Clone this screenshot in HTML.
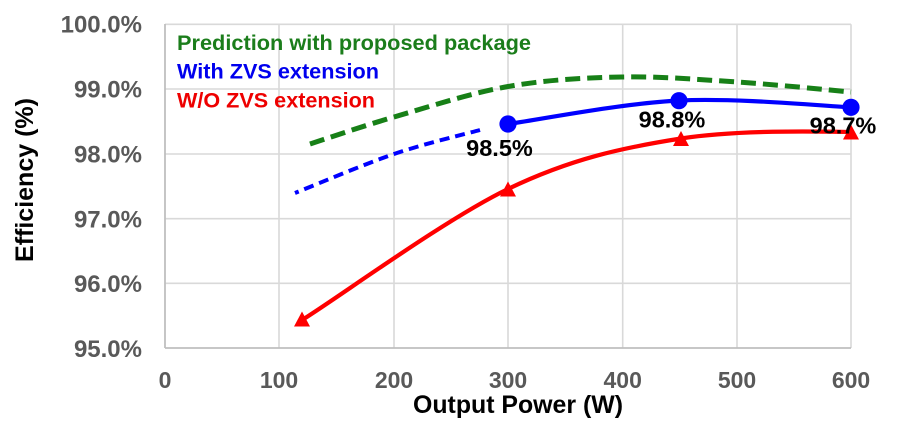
<!DOCTYPE html>
<html>
<head>
<meta charset="utf-8">
<style>
  html, body { margin: 0; padding: 0; background: #ffffff; }
  svg { display: block; }
  text { font-family: "Liberation Sans", Arial, sans-serif; font-weight: bold; }
</style>
</head>
<body>
<svg width="903" height="437" viewBox="0 0 903 437" xmlns="http://www.w3.org/2000/svg">
  <rect x="0" y="0" width="903" height="437" fill="#ffffff"/>

  <!-- gridlines -->
  <g stroke="#d9d9d9" stroke-width="1.6" fill="none">
    <line x1="165" y1="24.3" x2="851" y2="24.3"/>
    <line x1="165" y1="89" x2="851" y2="89"/>
    <line x1="165" y1="154" x2="851" y2="154"/>
    <line x1="165" y1="218.7" x2="851" y2="218.7"/>
    <line x1="165" y1="283.3" x2="851" y2="283.3"/>
    <line x1="279" y1="24.3" x2="279" y2="348"/>
    <line x1="394" y1="24.3" x2="394" y2="348"/>
    <line x1="508" y1="24.3" x2="508" y2="348"/>
    <line x1="622.7" y1="24.3" x2="622.7" y2="348"/>
    <line x1="737" y1="24.3" x2="737" y2="348"/>
    <line x1="851" y1="24.3" x2="851" y2="348"/>
  </g>
  <!-- axes -->
  <g stroke="#bfbfbf" stroke-width="1.8" fill="none">
    <line x1="165" y1="24" x2="165" y2="348"/>
    <line x1="165" y1="348" x2="851" y2="348"/>
  </g>

  <!-- Y tick labels -->
  <g font-size="24" fill="#595959" text-anchor="end">
    <text x="142" y="32.5">100.0%</text>
    <text x="142" y="97.5">99.0%</text>
    <text x="142" y="162.5">98.0%</text>
    <text x="142" y="227.3">97.0%</text>
    <text x="142" y="292">96.0%</text>
    <text x="142" y="357">95.0%</text>
  </g>

  <!-- X tick labels -->
  <g font-size="23" fill="#595959" text-anchor="middle">
    <text x="165" y="388">0</text>
    <text x="279" y="388">100</text>
    <text x="394" y="388">200</text>
    <text x="508" y="388">300</text>
    <text x="622.7" y="388">400</text>
    <text x="737" y="388">500</text>
    <text x="851" y="388">600</text>
  </g>

  <!-- Axis titles -->
  <text x="413" y="413" font-size="25" fill="#000" textLength="210" lengthAdjust="spacingAndGlyphs">Output Power (W)</text>
  <text transform="translate(33,180) rotate(-90)" x="0" y="0" font-size="25" fill="#000" text-anchor="middle">Efficiency (%)</text>

  <!-- Legend text -->
  <text x="177" y="50" font-size="21" fill="#1b7d1b" textLength="354" lengthAdjust="spacingAndGlyphs">Prediction with proposed package</text>
  <text x="177" y="78.3" font-size="21" fill="#0000ee" textLength="202" lengthAdjust="spacingAndGlyphs">With ZVS extension</text>
  <text x="177" y="107.3" font-size="21" fill="#ee0000" textLength="198" lengthAdjust="spacingAndGlyphs">W/O ZVS extension</text>

  <!-- Green dashed prediction -->
  <path d="M310,144 C324,139.5 361,126.6 394,117 C427,107.4 470,93.2 508,86.5 C546,79.8 583.8,77.75 622,77 C660.2,76.25 698.8,79.5 737,82 C775.2,84.5 832,90.3 851,92"
        fill="none" stroke="#178017" stroke-width="5" stroke-dasharray="15 7"/>

  <!-- Blue dashed -->
  <path d="M295,193 C311.5,186.5 363.2,164.5 394,154 C424.8,143.5 465.7,134 480,130"
        fill="none" stroke="#0000ff" stroke-width="4" stroke-dasharray="10 6" stroke-dashoffset="6"/>

  <!-- Red solid -->
  <path d="M302,320 C336.3,299 444.8,219.5 508,189 C571.2,158.5 623.8,147.5 681,138.5 C738.2,129.5 822.7,131.5 851,132"
        fill="none" stroke="#ff0000" stroke-width="4.2"/>
  <g fill="#ff0000">
    <polygon points="302,311.5 310,326.5 294,326.5"/>
    <polygon points="508,181.5 516,196.5 500,196.5"/>
    <polygon points="681,131 689,146 673,146"/>
    <polygon points="851,124.5 859,139.5 843,139.5"/>
  </g>

  <!-- Blue solid -->
  <path d="M508,124 C536.5,120.1 621.8,103.3 679,100.5 C736.2,97.7 822.3,105.9 851,107.3"
        fill="none" stroke="#0000ff" stroke-width="4.2"/>
  <g fill="#0000ff">
    <circle cx="508" cy="124" r="8.6"/>
    <circle cx="679" cy="100.7" r="8.6"/>
    <circle cx="851" cy="107.3" r="8.6"/>
  </g>

  <!-- Data labels -->
  <g font-size="23.5" fill="#000" text-anchor="middle">
    <text x="499.5" y="156">98.5%</text>
    <text x="672" y="127.7">98.8%</text>
    <text x="843" y="133.3">98.7%</text>
  </g>
</svg>
</body>
</html>
